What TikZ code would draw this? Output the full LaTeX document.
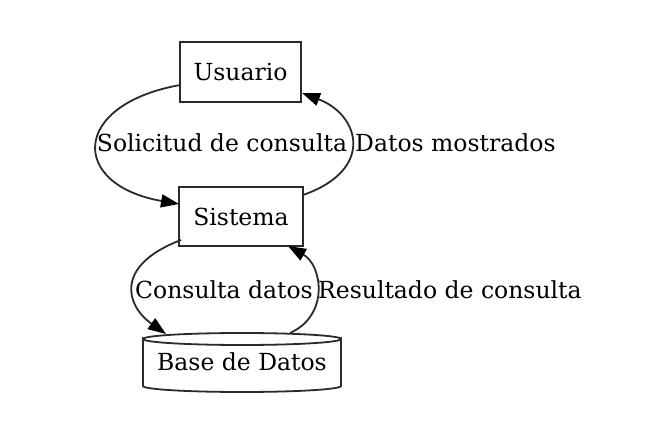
\documentclass[tikz,border=0pt]{standalone}
\usepackage{fontspec}
\setmainfont{DejaVu Serif}
\usetikzlibrary{arrows.meta}
\definecolor{ln}{HTML}{2a2a2a}
\tikzset{
  box/.style={draw=ln, line width=1.8pt, minimum width=#1, minimum height=60pt, inner sep=0pt},
  edge/.style={draw=ln, line width=1.8pt, -{Triangle[length=18pt,width=13pt,color=black]}},
  lbl/.style={inner sep=0pt, text=black},
  cyl/.style={draw=ln, line width=1.8pt},
}
\begin{document}
\begin{tikzpicture}[x=1pt,y=-1pt, font=\fontsize{23.5}{28}\selectfont]
\useasboundingbox (0,0) rectangle (645,441);
\node[box=121pt] (u) at (240.5,72) {Usuario};
\node[box=124pt, minimum height=59pt] (s) at (241,216.5) {Sistema};
% database cylinder
\node[minimum width=198pt, minimum height=60pt, inner sep=0pt] (db) at (242,362) {};
\draw[cyl, fill=white]
  (143,339) -- (143,386) arc[start angle=180, end angle=0, x radius=99, y radius=6]
  -- (341,339) arc[start angle=0, end angle=180, x radius=99, y radius=6] -- cycle;
\draw[cyl] (143,339) arc[start angle=180, end angle=360, x radius=99, y radius=6];
\node[lbl] (dbt) at (db) {Base de Datos};
\coordinate (u1) at (180,85);
\coordinate (u2) at (302,93);
\coordinate (s1) at (179,204);
\coordinate (s2) at (303,195);
\coordinate (s3) at (181,240);
\coordinate (s4) at (288,246);
\coordinate (d1) at (166,334);
\coordinate (d2) at (290,333);
\draw[edge] (u1) .. controls (70,105) and (70,185) .. (s1);
\draw[edge] (s2) .. controls (375,170) and (360,115) .. (u2);
\draw[edge] (s3) .. controls (115,265) and (125,305) .. (d1);
\draw[edge] (d2) .. controls (330,315) and (322,265) .. (s4);
\node[lbl] (l1) at (222,143) {Solicitud de consulta};
\node[lbl, anchor=west] (l2) at (355,143) {Datos mostrados};
\node[lbl] (l3) at (224,290) {Consulta datos};
\node[lbl, anchor=west] (l4) at (318,290) {Resultado de consulta};
\end{tikzpicture}
\end{document}
